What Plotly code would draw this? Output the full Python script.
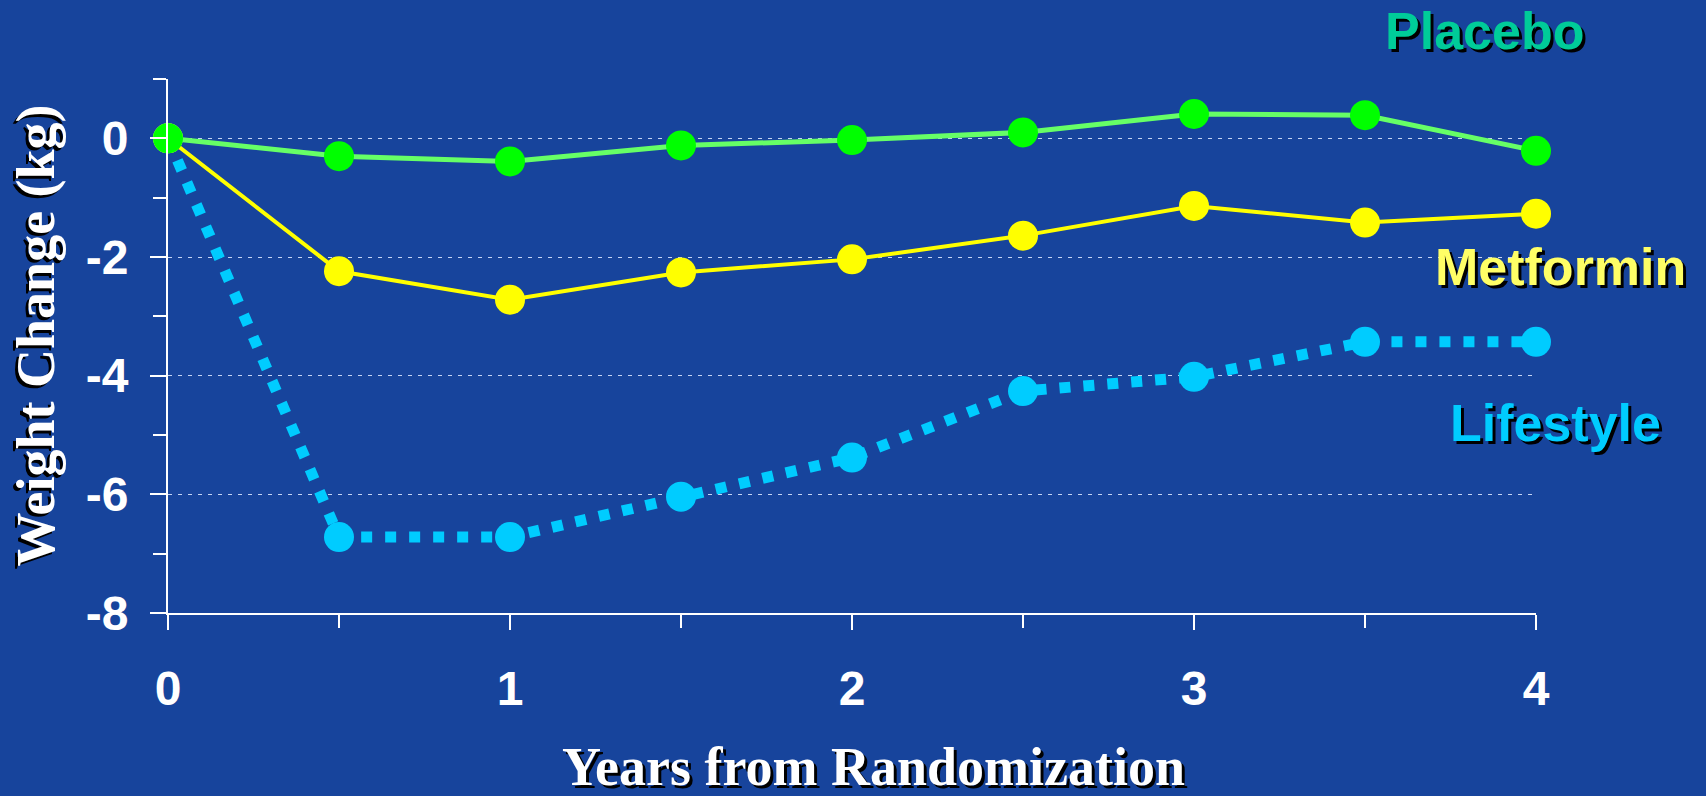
import plotly.graph_objects as go

years = [0, 0.5, 1, 1.5, 2, 2.5, 3, 3.5, 4]
placebo = [0, -0.30, -0.39, -0.12, -0.03, 0.10, 0.41, 0.39, -0.21]
metformin = [0, -2.24, -2.72, -2.26, -2.04, -1.64, -1.14, -1.42, -1.27]
lifestyle = [0, -6.72, -6.72, -6.04, -5.38, -4.26, -4.02, -3.43, -3.43]

y_major = [-8, -6, -4, -2, 0]
y_minor = [-7, -5, -3, -1, 1]
x_major = [0, 1, 2, 3, 4]
x_minor = [0.5, 1.5, 2.5, 3.5]

x_title = "Years from Randomization"
y_title = "Weight Change (kg)"

BG = "#17449C"
SANS = "Liberation Sans, Arial, sans-serif"
SERIF = "Liberation Serif, Times New Roman, serif"

fig = go.Figure()

fig.add_trace(go.Scatter(
    x=years, y=lifestyle, mode="lines+markers", name="Lifestyle",
    line=dict(color="#00CCFF", width=11, dash="11px,13px"),
    marker=dict(color="#00CCFF", size=30),
    cliponaxis=False, showlegend=False))
fig.add_trace(go.Scatter(
    x=years, y=metformin, mode="lines+markers", name="Metformin",
    line=dict(color="#FFFF00", width=4),
    marker=dict(color="#FFFF00", size=30),
    cliponaxis=False, showlegend=False))
fig.add_trace(go.Scatter(
    x=years, y=placebo, mode="lines+markers", name="Placebo",
    line=dict(color="#66FF66", width=5),
    marker=dict(color="#00FF00", size=30),
    cliponaxis=False, showlegend=False))

label_font = dict(family=SANS, size=52, weight="bold", shadow="3px 3px 0px black")
for txt, px, py, col in [("Placebo", 0.962, 1.090, "#00CC99"),
                         ("Metformin", 1.018, 0.648, "#FFFF66"),
                         ("Lifestyle", 1.014, 0.356, "#00CCFF")]:
    fig.add_annotation(x=px, y=py, xref="paper", yref="paper", text=txt, showarrow=False,
                       xanchor="center", yanchor="middle",
                       font=dict(color=col, **label_font))

# axis titles
fig.add_annotation(x=0.516, y=-0.2890, xref="paper", yref="paper", text=x_title,
                   showarrow=False, xanchor="center", yanchor="middle",
                   font=dict(family=SERIF, size=54, color="white", weight="bold",
                             shadow="3px 3px 0px black"))
fig.add_annotation(x=-0.0958, y=0.5197, xref="paper", yref="paper", text=y_title,
                   showarrow=False, xanchor="center", yanchor="middle", textangle=-90,
                   font=dict(family=SERIF, size=54, color="white", weight="bold",
                             shadow="-3px -3px 0px black"))

fig.update_layout(
    width=1706, height=796,
    paper_bgcolor=BG, plot_bgcolor=BG,
    margin=dict(l=168, r=170, t=79, b=183, autoexpand=False),
    xaxis=dict(
        range=[0, 4], tickvals=x_major, ticktext=[str(v) for v in x_major],
        showgrid=False, zeroline=False, automargin=False,
        showline=True, linecolor="white", linewidth=2,
        ticks="outside", ticklen=15, tickcolor="white", tickwidth=2,
        tickfont=dict(family=SANS, size=48, color="white", weight="bold"),
        ticklabelstandoff=17,
        minor=dict(tickvals=x_minor, ticks="outside", ticklen=13, tickcolor="white",
                   tickwidth=2, showgrid=False),
    ),
    yaxis=dict(
        range=[-8, 1], tickvals=y_major, ticktext=[str(v) for v in y_major],
        showgrid=True, gridcolor="rgba(215,228,255,0.9)", gridwidth=1, griddash="4px,6px",
        zeroline=False, automargin=False,
        showline=True, linecolor="white", linewidth=2,
        ticks="outside", ticklen=16, tickcolor="white", tickwidth=2,
        tickfont=dict(family=SANS, size=48, color="white", weight="bold"),
        ticklabelstandoff=12,
        minor=dict(tickvals=y_minor, ticks="outside", ticklen=13, tickcolor="white",
                   tickwidth=2, showgrid=False),
    ),
)

fig.write_html("out.html", config={"displayModeBar": False},
               post_script="document.body.style.margin='0';document.body.style.background='%s';" % BG)
